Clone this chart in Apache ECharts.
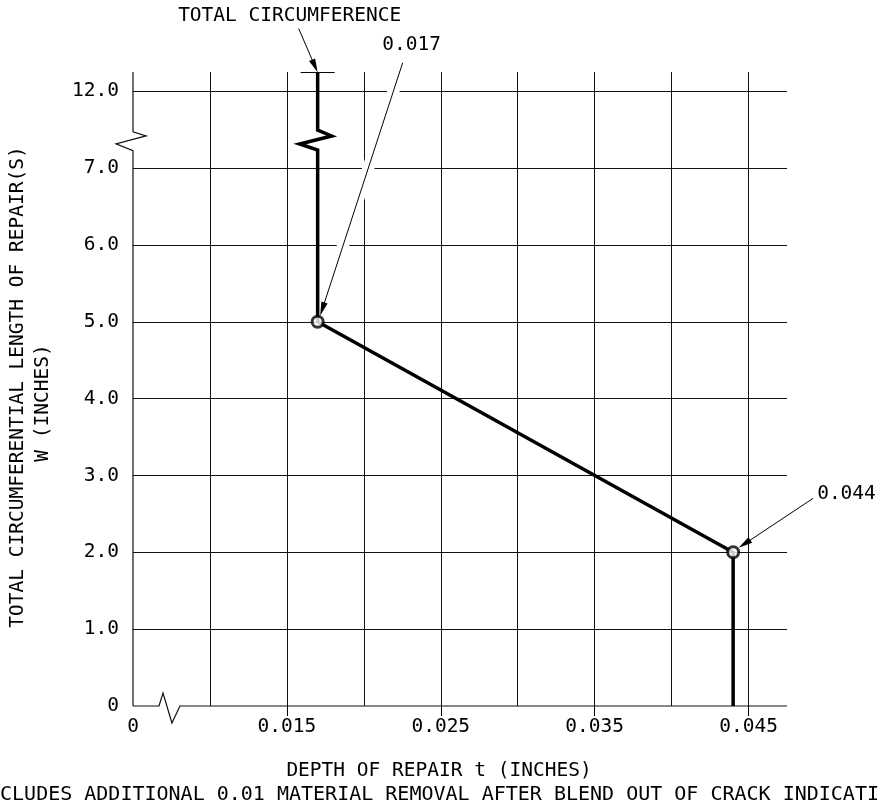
<!DOCTYPE html>
<html><head><meta charset="utf-8">
<script src="https://cdn.jsdelivr.net/npm/echarts@6/dist/echarts.min.js"></script>
<style>html,body{margin:0;padding:0;background:#fff}#c{width:879px;height:808px}</style>
</head><body><div id="c"></div>
<script>
// ---- data (x = depth of repair, inches; y = plot position: 0–7 as read, 8 = 12.0 after the axis break)
const depth     = [0.017, 0.017, 0.01791, 0.01583, 0.017, 0.017, 0.044, 0.044];
const lengthPos = [8.243, 7.495, 7.417, 7.313, 7.235, 5, 2, 0];
const pointDepth  = [0.017, 0.044];
const pointLength = [5, 2];
const xLabelValues = [0.005, 0.015, 0.025, 0.035, 0.045];
const xLabelText   = ['0', '0.015', '0.025', '0.035', '0.045'];
const yLabelText   = ['0', '1.0', '2.0', '3.0', '4.0', '5.0', '6.0', '7.0', '12.0'];
// axis break decorations (axis lines with zig-zag)
const yAxisBreakX = [0.005, 0.005, 0.003895, 0.005845, 0.005, 0.005];
const yAxisBreakY = [0, 7.226, 7.315, 7.419, 7.473, 8.25];
const xAxisBreakX = [0.005, 0.00669, 0.00695, 0.00753, 0.00805, 0.0475];
const xAxisBreakY = [0, 0, 0.169, -0.221, 0, 0];
// annotation texts
const noteTotal = 'TOTAL CIRCUMFERENCE';
const noteTop   = '0.017';
const noteLow   = '0.044';
const xTitle = 'DEPTH OF REPAIR t (INCHES)';
const yTitle1 = 'TOTAL CIRCUMFERENTIAL LENGTH OF REPAIR(S)';
const yTitle2 = 'W (INCHES)';
const caption = 'INCLUDES ADDITIONAL 0.01 MATERIAL REMOVAL AFTER BLEND OUT OF CRACK INDICATION';

const FONT = '"DejaVu Sans Mono", monospace';
const FS = 19.5;
const zip = (a, b) => a.map((v, i) => [v, b[i]]);
const X_MIN = 0.005, X_MAX = 0.0475;

const chart = echarts.init(document.getElementById('c'), null, {renderer: 'canvas'});
chart.setOption({
  animation: false,
  backgroundColor: '#fff',
  grid: {left: 133, right: 92, top: 72, bottom: 102},
  xAxis: [{
    type: 'value', min: X_MIN, max: X_MAX, interval: 0.005,
    axisLine: {show: false},
    axisTick: {show: true, customValues: [0.015, 0.025, 0.035, 0.045], length: 10, lineStyle: {color: '#000', width: 1}},
    axisLabel: {
      customValues: xLabelValues, margin: 11, color: '#000', fontFamily: FONT, fontSize: FS,
      formatter: v => { const i = xLabelValues.findIndex(t => Math.abs(t - v) < 1e-9); return i >= 0 ? xLabelText[i] : ''; }
    },
    splitLine: {show: false}
  }, {
    type: 'value', position: 'top', min: X_MIN, max: X_MAX, interval: 0.005,
    axisLine: {show: false}, axisTick: {show: false}, axisLabel: {show: false},
    splitLine: {show: true, showMinLine: false, showMaxLine: false, lineStyle: {color: '#111', width: 1}}
  }],
  yAxis: {
    type: 'value', min: 0, max: 8.25, interval: 1,
    axisLine: {show: false}, axisTick: {show: false},
    axisLabel: {
      margin: 14, color: '#000', fontFamily: FONT, fontSize: FS,
      formatter: v => { const r = Math.round(v); return Math.abs(r - v) < 1e-9 && r < yLabelText.length ? yLabelText[r] : ''; }
    },
    splitLine: {show: true, showMinLine: false, showMaxLine: false, lineStyle: {color: '#111', width: 1}}
  },
  series: [
    {type: 'line', xAxisIndex: 0, data: zip(depth, lengthPos), symbol: 'none', clip: false,
     lineStyle: {color: '#000', width: 3.5, join: 'miter'}, z: 4},
    {type: 'scatter', xAxisIndex: 0, data: zip(pointDepth, pointLength), symbol: 'circle', symbolSize: 11,
     itemStyle: {color: '#fff', borderColor: '#000', borderWidth: 3}, z: 5}
  ]
});

// ---- decorations & annotations, placed through the axes' scales
const px = p => chart.convertToPixel({gridIndex: 0}, p);
const g = [];
// axis lines with break symbols
g.push({type: 'polyline', z: 3, silent: true, shape: {points: zip(yAxisBreakX, yAxisBreakY).map(px)},
  style: {stroke: '#111', lineWidth: 1.2, fill: null}});
g.push({type: 'polyline', z: 3, silent: true, shape: {points: zip(xAxisBreakX, xAxisBreakY).map(px)},
  style: {stroke: '#111', lineWidth: 1.2, fill: null}});

function addText(t, x, y, align, extra) {
  g.push(Object.assign({type: 'text', x, y, z: 20,
    style: {text: t, fill: '#000', font: FS + 'px ' + FONT, align: align || 'center', verticalAlign: 'middle'}}, extra || {}));
}
function leader(sx, sy, tx, ty, halo) {
  const dx = tx - sx, dy = ty - sy, L = Math.hypot(dx, dy), ux = dx / L, uy = dy / L;
  const al = 14, aw = 3.3;
  if (halo) {
    const cut = 22;
    g.push({type: 'line', z: 1, silent: true, shape: {x1: sx, y1: sy, x2: tx - ux * cut, y2: ty - uy * cut},
      style: {stroke: '#fff', lineWidth: 12}});
  }
  g.push({type: 'line', z: 10, silent: true, shape: {x1: sx, y1: sy, x2: tx - ux * al * 0.8, y2: ty - uy * al * 0.8},
    style: {stroke: '#000', lineWidth: 1}});
  const bx = tx - ux * al, by = ty - uy * al;
  g.push({type: 'polygon', z: 10, silent: true,
    shape: {points: [[tx, ty], [bx - uy * aw, by + ux * aw], [bx + uy * aw, by - ux * aw]]},
    style: {fill: '#000'}});
}
// total circumference
const pTop = px([depth[0], lengthPos[0]]);
g.push({type: 'line', z: 10, silent: true, shape: {x1: pTop[0] - 17, y1: pTop[1], x2: pTop[0] + 17, y2: pTop[1]},
  style: {stroke: '#000', lineWidth: 1}});
leader(pTop[0] - 19, pTop[1] - 44, pTop[0], pTop[1], false);
addText(noteTotal, pTop[0] - 28, pTop[1] - 57, 'center');
// 0.017
const p1 = px([pointDepth[0], pointLength[0]]);
leader(p1[0] + 85, p1[1] - 259, p1[0] + 2.5, p1[1] - 6, true);
addText(noteTop, p1[0] + 94, p1[1] - 277, 'center');
// 0.044
const p2 = px([pointDepth[1], pointLength[1]]);
leader(p2[0] + 80, p2[1] - 54, p2[0] + 5.5, p2[1] - 4.5, true);
addText(noteLow, p2[0] + 84, p2[1] - 58, 'left');
// titles
addText(xTitle, 439, 771, 'center');
addText(caption, 439.5, 795, 'center', {style: {text: caption, fill: '#000', font: '20px ' + FONT, align: 'center', verticalAlign: 'middle'}});
addText(yTitle1, 18, 387, 'center', {rotation: Math.PI / 2});
addText(yTitle2, 43, 403, 'center', {rotation: Math.PI / 2});
chart.setOption({graphic: {elements: g}});
</script></body></html>
